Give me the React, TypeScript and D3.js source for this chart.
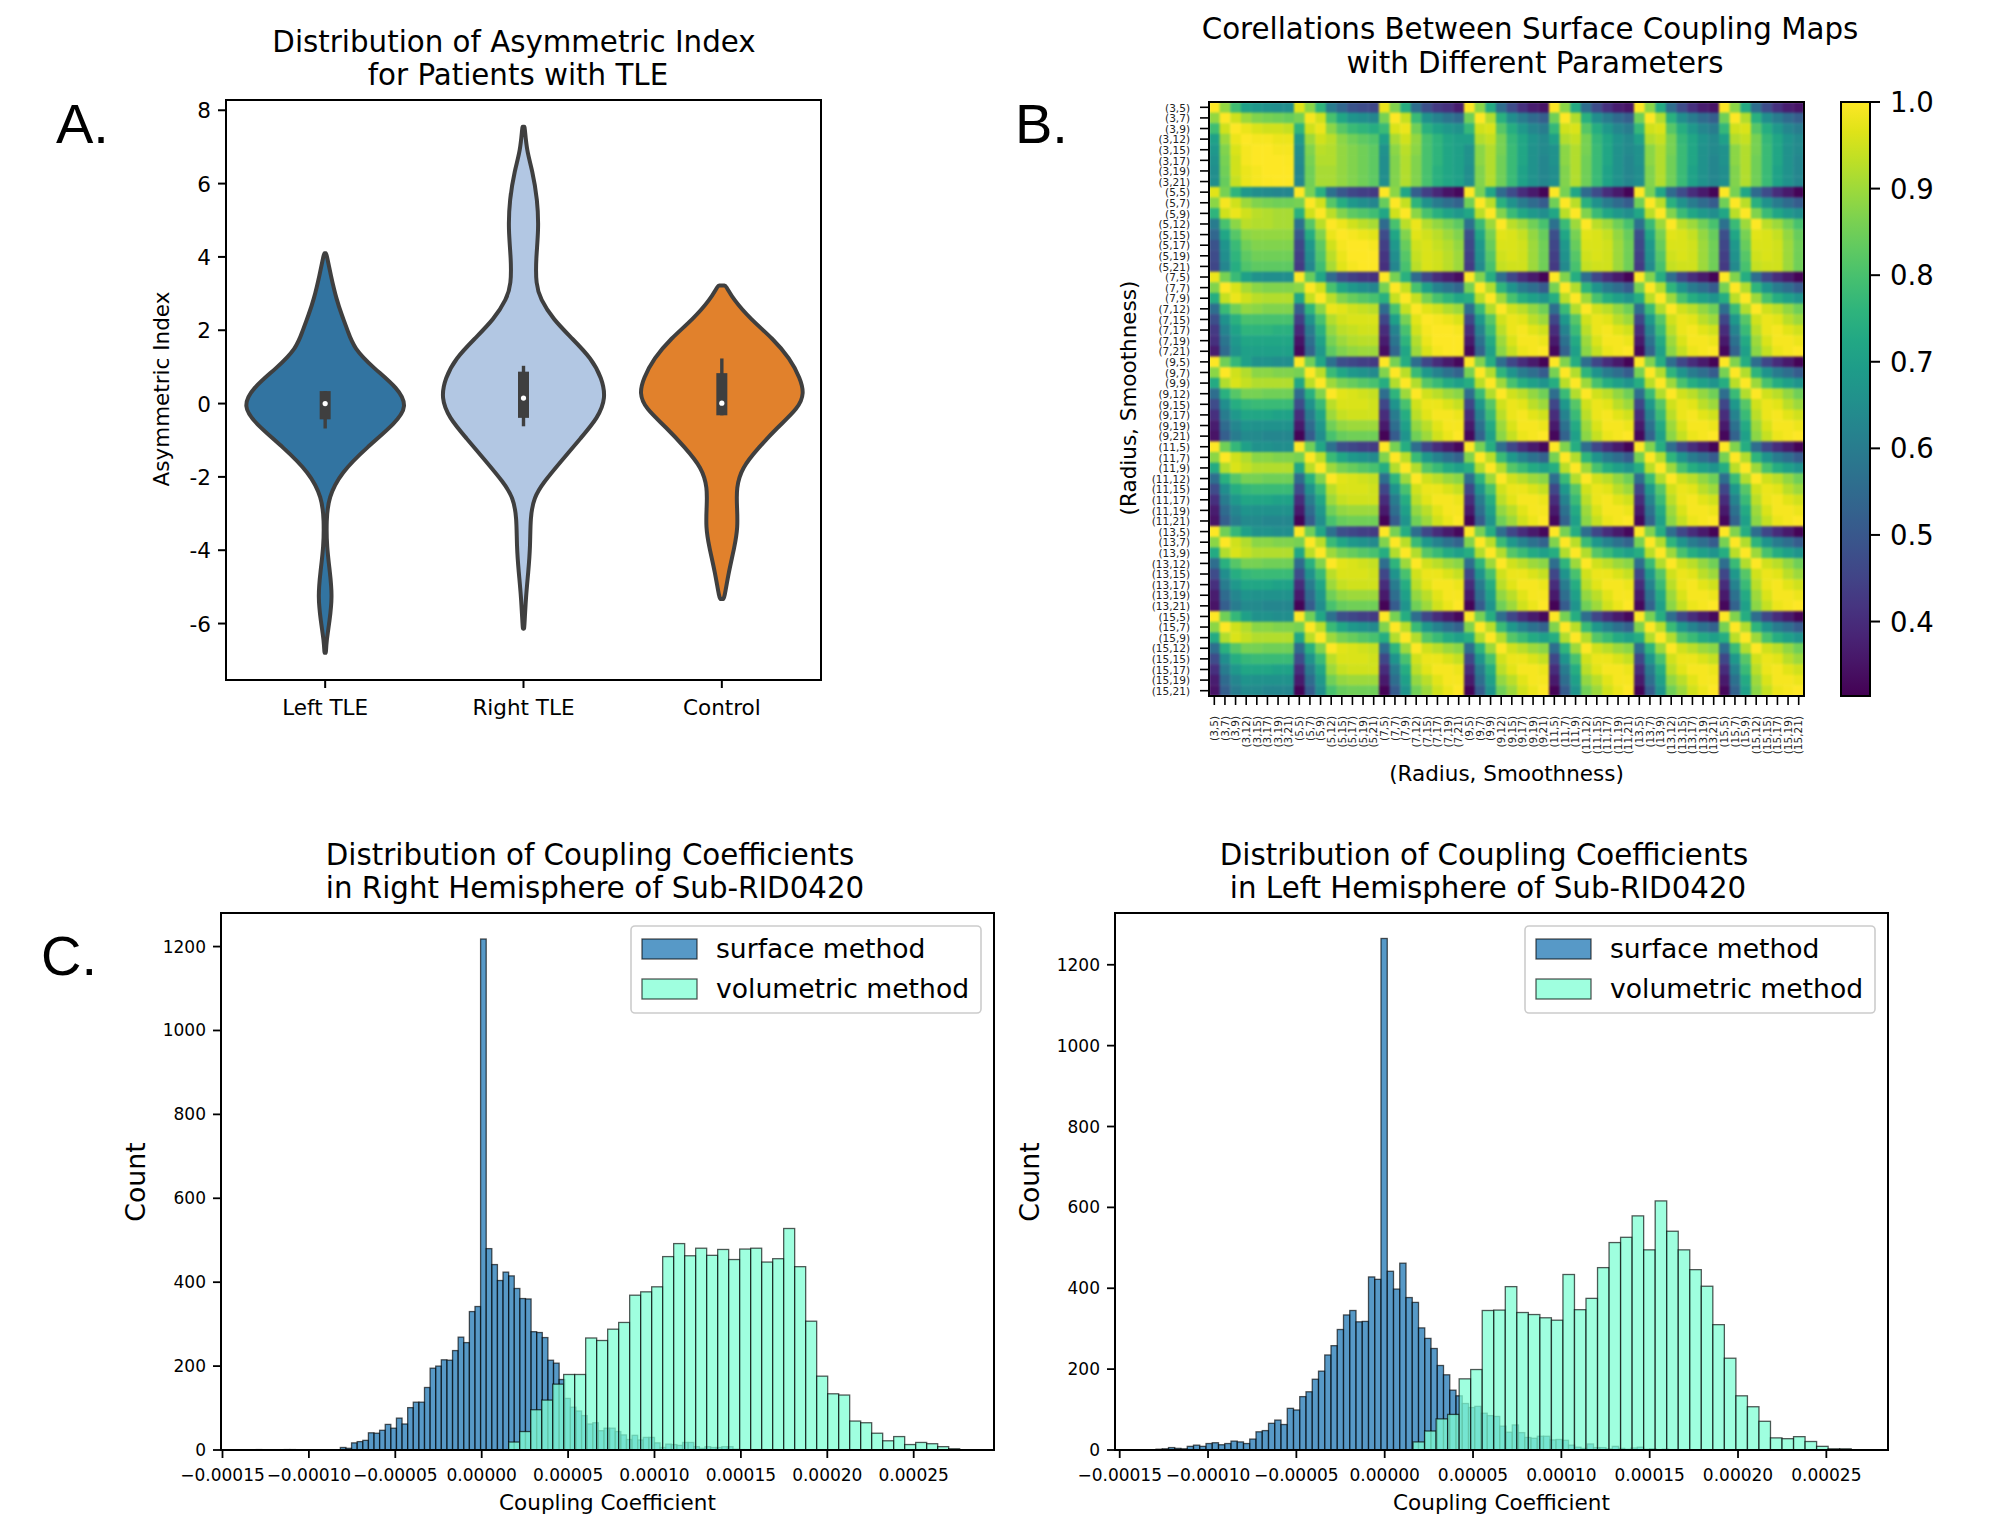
import React from "react";
import * as d3 from "d3";

const FONT = "'DejaVu Sans', sans-serif";

// ---- Panel A data
const violinCategories = ["Left TLE", "Right TLE", "Control"];
const violinColors = ["#3274a1", "#b2c7e3", "#e1812c"];
const leftValues = [4.1, 4.1, 3.5, 2.85, 2.4, 2, 1.5, 0.96, 0.42, -0.08, -0.53, -1.2, -1.88, -2.56, -3.2, -3.9, -4.6, -5.26, -5.94, -6.5, -6.8, -6.8];
const leftWidths = [0.01, 0.015, 0.07, 0.14, 0.21, 0.28, 0.36, 0.61, 0.91, 1.03, 0.88, 0.52, 0.2, 0.04, 0.015, 0.02, 0.06, 0.09, 0.055, 0.015, 0.01, 0.005];
const rightValues = [7.55, 7.55, 6.9, 6.37, 5.56, 4.75, 3.94, 3.26, 2.85, 2.3, 1.77, 1.23, 0.69, 0.15, -0.39, -0.93, -1.6, -2.15, -2.56, -3.1, -3.9, -4.6, -5.26, -6.14, -6.14];
const rightWidths = [0.01, 0.015, 0.04, 0.11, 0.175, 0.19, 0.155, 0.155, 0.21, 0.37, 0.61, 0.85, 0.98, 1.03, 0.93, 0.72, 0.46, 0.25, 0.13, 0.085, 0.085, 0.06, 0.03, 0.01, 0.005];
const controlValues = [3.22, 3.22, 2.85, 2.3, 1.77, 1.23, 0.69, 0.28, -0.12, -0.66, -1.2, -1.75, -2.3, -2.83, -3.37, -3.9, -4.6, -5.33, -5.33];
const controlWidths = [0.03, 0.05, 0.14, 0.36, 0.64, 0.85, 0.98, 1.03, 0.96, 0.69, 0.46, 0.25, 0.18, 0.19, 0.2, 0.16, 0.085, 0.03, 0.015];
const q1s = [-0.43, -0.39, -0.32];
const q3s = [0.34, 0.87, 0.83];
const whiskLow = [-0.68, -0.62, -0.32];
const whiskHigh = [0.34, 1.03, 1.23];
const medians = [0, 0.15, 0.01];
const violinTicks = [8, 6, 4, 2, 0, -2, -4, -6];

// ---- Panel B data
const radii = [3, 5, 7, 9, 11, 13, 15];
const smoothness = [5, 7, 9, 12, 15, 17, 19, 21];
const block33 = [
  [1.0, 0.89, 0.79, 0.7, 0.68, 0.66, 0.65, 0.65],
  [0.89, 1.0, 0.95, 0.9, 0.87, 0.86, 0.85, 0.84],
  [0.79, 0.95, 1.0, 0.98, 0.96, 0.95, 0.95, 0.94],
  [0.7, 0.9, 0.98, 1.0, 0.99, 0.99, 0.98, 0.98],
  [0.68, 0.87, 0.96, 0.99, 1.0, 1.0, 0.99, 0.99],
  [0.66, 0.86, 0.95, 0.99, 1.0, 1.0, 1.0, 0.995],
  [0.65, 0.85, 0.95, 0.98, 0.99, 1.0, 1.0, 1.0],
  [0.65, 0.84, 0.94, 0.98, 0.99, 0.995, 1.0, 1.0],
];
const block35 = [
  [0.97, 0.88, 0.76, 0.6, 0.54, 0.49, 0.47, 0.46],
  [0.86, 0.99, 0.95, 0.8, 0.72, 0.67, 0.65, 0.63],
  [0.76, 0.95, 0.98, 0.88, 0.82, 0.78, 0.76, 0.74],
  [0.68, 0.9, 0.95, 0.93, 0.88, 0.85, 0.83, 0.81],
  [0.65, 0.87, 0.93, 0.92, 0.89, 0.87, 0.85, 0.83],
  [0.64, 0.86, 0.92, 0.92, 0.89, 0.87, 0.85, 0.83],
  [0.63, 0.85, 0.91, 0.91, 0.89, 0.87, 0.85, 0.83],
  [0.63, 0.85, 0.91, 0.91, 0.89, 0.87, 0.85, 0.83],
];
const block37 = [
  [0.98, 0.87, 0.74, 0.56, 0.48, 0.43, 0.41, 0.37],
  [0.86, 1.0, 0.94, 0.78, 0.66, 0.62, 0.58, 0.55],
  [0.78, 0.96, 0.98, 0.85, 0.75, 0.71, 0.68, 0.66],
  [0.7, 0.91, 0.95, 0.89, 0.8, 0.76, 0.72, 0.7],
  [0.66, 0.88, 0.93, 0.88, 0.8, 0.76, 0.72, 0.7],
  [0.65, 0.87, 0.92, 0.87, 0.8, 0.76, 0.72, 0.7],
  [0.65, 0.87, 0.92, 0.87, 0.8, 0.75, 0.72, 0.7],
  [0.65, 0.87, 0.92, 0.87, 0.8, 0.75, 0.72, 0.7],
];
const block3far = [
  [1.0, 0.88, 0.73, 0.56, 0.47, 0.41, 0.37, 0.35],
  [0.85, 1.0, 0.92, 0.75, 0.65, 0.6, 0.55, 0.52],
  [0.77, 0.95, 0.96, 0.82, 0.74, 0.68, 0.63, 0.6],
  [0.7, 0.92, 0.94, 0.86, 0.77, 0.72, 0.67, 0.64],
  [0.66, 0.88, 0.92, 0.86, 0.78, 0.72, 0.66, 0.64],
  [0.66, 0.88, 0.92, 0.85, 0.78, 0.72, 0.66, 0.63],
  [0.65, 0.87, 0.92, 0.85, 0.78, 0.71, 0.66, 0.63],
  [0.65, 0.87, 0.92, 0.85, 0.78, 0.71, 0.66, 0.63],
];
const block55 = [
  [1.0, 0.86, 0.75, 0.57, 0.5, 0.46, 0.44, 0.43],
  [0.86, 1.0, 0.95, 0.82, 0.74, 0.68, 0.65, 0.63],
  [0.75, 0.95, 1.0, 0.93, 0.87, 0.83, 0.81, 0.79],
  [0.57, 0.82, 0.93, 1.0, 0.98, 0.95, 0.93, 0.91],
  [0.5, 0.74, 0.87, 0.98, 1.0, 0.99, 0.98, 0.97],
  [0.46, 0.68, 0.83, 0.95, 0.99, 1.0, 1.0, 0.99],
  [0.44, 0.65, 0.81, 0.93, 0.98, 1.0, 1.0, 1.0],
  [0.43, 0.63, 0.79, 0.91, 0.97, 0.99, 1.0, 1.0],
];
const block57 = [
  [1.0, 0.88, 0.72, 0.52, 0.44, 0.39, 0.35, 0.33],
  [0.84, 1.0, 0.94, 0.76, 0.66, 0.6, 0.56, 0.53],
  [0.72, 0.95, 1.0, 0.88, 0.8, 0.75, 0.71, 0.68],
  [0.55, 0.8, 0.93, 0.98, 0.92, 0.89, 0.86, 0.83],
  [0.47, 0.72, 0.87, 0.97, 0.95, 0.93, 0.9, 0.87],
  [0.44, 0.68, 0.84, 0.95, 0.96, 0.94, 0.92, 0.89],
  [0.42, 0.65, 0.82, 0.94, 0.96, 0.95, 0.93, 0.9],
  [0.41, 0.63, 0.8, 0.93, 0.96, 0.95, 0.93, 0.9],
];
const block5far = [
  [1.0, 0.86, 0.72, 0.55, 0.47, 0.4, 0.36, 0.32],
  [0.85, 1.0, 0.93, 0.75, 0.66, 0.6, 0.55, 0.51],
  [0.72, 0.93, 1.0, 0.87, 0.78, 0.72, 0.68, 0.65],
  [0.57, 0.78, 0.9, 1.0, 0.93, 0.9, 0.85, 0.8],
  [0.48, 0.72, 0.86, 0.97, 0.96, 0.94, 0.89, 0.84],
  [0.46, 0.68, 0.84, 0.96, 0.96, 0.95, 0.9, 0.85],
  [0.44, 0.66, 0.82, 0.95, 0.96, 0.95, 0.9, 0.85],
  [0.43, 0.64, 0.8, 0.94, 0.95, 0.95, 0.9, 0.85],
];
const block77 = [
  [1.0, 0.86, 0.75, 0.55, 0.46, 0.4, 0.37, 0.34],
  [0.86, 1.0, 0.94, 0.8, 0.7, 0.62, 0.58, 0.54],
  [0.75, 0.94, 1.0, 0.94, 0.86, 0.8, 0.76, 0.72],
  [0.55, 0.8, 0.94, 1.0, 0.97, 0.95, 0.92, 0.9],
  [0.46, 0.7, 0.86, 0.97, 1.0, 0.99, 0.98, 0.96],
  [0.4, 0.62, 0.8, 0.95, 0.99, 1.0, 1.0, 0.99],
  [0.37, 0.58, 0.76, 0.92, 0.98, 1.0, 1.0, 1.0],
  [0.34, 0.54, 0.72, 0.9, 0.96, 0.99, 1.0, 1.0],
];
const blockFar = [
  [1.0, 0.87, 0.74, 0.56, 0.46, 0.4, 0.36, 0.32],
  [0.86, 1.0, 0.92, 0.76, 0.67, 0.6, 0.56, 0.51],
  [0.74, 0.93, 1.0, 0.9, 0.8, 0.74, 0.7, 0.67],
  [0.56, 0.78, 0.92, 1.0, 0.95, 0.93, 0.89, 0.85],
  [0.46, 0.68, 0.82, 0.95, 0.98, 0.97, 0.93, 0.9],
  [0.4, 0.62, 0.78, 0.93, 0.98, 0.99, 0.97, 0.95],
  [0.36, 0.57, 0.73, 0.9, 0.96, 0.99, 0.99, 0.98],
  [0.33, 0.53, 0.7, 0.88, 0.94, 0.98, 0.99, 1.0],
];
const colorbarTicks = [1.0, 0.9, 0.8, 0.7, 0.6, 0.5, 0.4];

// ---- Panel C data
const histXTicks = [-0.00015, -0.0001, -0.00005, 0, 0.00005, 0.0001, 0.00015, 0.0002, 0.00025];
const histYTicks = [0, 200, 400, 600, 800, 1000, 1200];
const rightHemiBlueStart = -1.305e-4;
const rightHemiBlueBin = 3.2465e-6;
const rightHemiBlue = [
  1, 0, 0, 0, 0, 1, 1, 0, 0, 0, 0, 0, 0, 0, 0,
  6, 4, 17, 20, 23, 41, 40, 47, 61, 52, 76, 62, 101, 114, 114, 149, 195, 200, 215, 214, 237, 269, 256, 330, 342,
  1218, 480, 442, 404, 424, 415, 385, 361, 360, 282, 280, 268, 214, 207, 168, 123, 102, 93, 82, 62, 65, 46, 52, 52,
  44, 36, 25, 35, 24, 30, 30, 17, 6, 14, 13, 11, 18, 18, 8, 4, 8, 6, 6, 8, 8, 2, 1, 1, 0, 1, 1, 0, 1,
];
const rightHemiGreenStart = 1.56e-5;
const rightHemiGreenBin = 6.366e-6;
const rightHemiGreen = [
  19, 44, 96, 119, 157, 180, 180, 267, 261, 288, 304, 369, 377, 389, 461, 492, 463, 481, 464, 478, 454, 479, 481, 448, 456,
  528, 437, 307, 176, 134, 131, 69, 65, 40, 22, 32, 13, 18, 15, 8, 3,
];
const leftHemiBlueStart = -1.2946e-4;
const leftHemiBlueBin = 3.538e-6;
const leftHemiBlue = [
  2, 3, 6, 4, 3, 9, 12, 9, 16, 18, 13, 16, 22, 20, 16, 27, 45, 48, 66, 74, 63, 103, 99, 132, 144, 175, 195, 235, 258, 298,
  334, 345, 317, 318, 428, 422, 1265, 442, 398, 462, 377, 365, 302, 276, 251, 209, 186, 148, 134, 115, 105, 108, 91, 85, 83,
  59, 44, 62, 43, 31, 29, 34, 34, 25, 26, 24, 12, 7, 4, 15, 6, 6, 3, 9, 4, 2, 5, 7, 2, 3, 1, 2, 1, 1,
];
const leftHemiGreenStart = 1.604e-5;
const leftHemiGreenBin = 6.527e-6;
const leftHemiGreen = [
  20, 47, 77, 88, 176, 199, 345, 346, 404, 340, 335, 327, 321, 434, 347, 375, 451, 513, 526, 579, 495, 616, 541, 495, 446,
  405, 310, 227, 134, 107, 71, 30, 28, 33, 21, 9, 3, 3,
];
const legendLabels = ["surface method", "volumetric method"];

const STROKE = "#000";
const TITLE_SIZE = 29.3;
const LABEL_SIZE = 21.5;

function blockFor(i: number, j: number) {
  // table for a pair of radius indices; i = row radius, j = column radius
  const a = Math.min(i, j);
  const b = Math.max(i, j);
  let t = blockFar;
  if (a === 0) t = b === 0 ? block33 : b === 1 ? block35 : b === 2 ? block37 : block3far;
  else if (a === 1) t = b === 1 ? block55 : b === 2 ? block57 : block5far;
  else if (a === 2 && b === 2) t = block77;
  return { t, swap: i > j };
}

function Violins() {
  const L = 226, R = 821, T = 100, B = 680;
  const x = d3.scaleBand<string>().domain(violinCategories).range([L, R]);
  const y = d3.scaleLinear().domain([-7.54, 8.28]).range([B, T]);
  const halfMax = 80;
  const vals = [leftValues, rightValues, controlValues];
  const wids = [leftWidths, rightWidths, controlWidths];
  return (
    <g fontFamily={FONT} fill="#000">
      <text textAnchor="middle" fontSize={TITLE_SIZE}>
        <tspan x={514} y={52}>Distribution of Asymmetric Index</tspan>
        <tspan x={518} y={85}>for Patients with TLE</tspan>
      </text>
      {violinCategories.map((c, k) => {
        const cx = x(c)! + x.bandwidth() / 2;
        const pts = vals[k].map((v, i) => [v, wids[k][i]] as [number, number]);
        const area = d3.area<[number, number]>()
          .y((d) => y(d[0]))
          .x0((d) => cx - d[1] * halfMax)
          .x1((d) => cx + d[1] * halfMax)
          .curve(d3.curveBasis);
        return (
          <g key={c}>
            <path d={area(pts)!} fill={violinColors[k]} stroke="#3f3f3f" strokeWidth={4} strokeLinejoin="round" />
            <line x1={cx} x2={cx} y1={y(whiskLow[k])} y2={y(whiskHigh[k])} stroke="#3f3f3f" strokeWidth={3.4} />
            <line x1={cx} x2={cx} y1={y(q1s[k])} y2={y(q3s[k])} stroke="#3f3f3f" strokeWidth={11} />
            <circle cx={cx} cy={y(medians[k])} r={2.6} fill="#fff" />
            <line x1={cx} x2={cx} y1={B} y2={B + 8} stroke={STROKE} strokeWidth={2} />
            <text x={cx} y={B + 35} textAnchor="middle" fontSize={LABEL_SIZE}>{c}</text>
          </g>
        );
      })}
      {violinTicks.map((t) => (
        <g key={t}>
          <line x1={L - 8} x2={L} y1={y(t)} y2={y(t)} stroke={STROKE} strokeWidth={2} />
          <text x={L - 15} y={y(t) + 8} textAnchor="end" fontSize={LABEL_SIZE}>{String(t)}</text>
        </g>
      ))}
      <rect x={L} y={T} width={R - L} height={B - T} fill="none" stroke={STROKE} strokeWidth={2} />
      <text transform={`translate(169,${(T + B) / 2 - 1}) rotate(-90)`} textAnchor="middle" fontSize={LABEL_SIZE}>Asymmetric Index</text>
    </g>
  );
}

function Heatmap() {
  const L = 1209, R = 1804, T = 102, B = 696;
  const labels = radii.flatMap((r) => smoothness.map((s) => `(${r},${s})`));
  const xb = d3.scaleBand<string>().domain(labels).range([L, R]);
  const yb = d3.scaleBand<string>().domain(labels).range([T, B]);
  const cbY = d3.scaleLinear().domain([0.314, 1]).range([B, T]);
  const color = d3.scaleSequential(d3.interpolateViridis).domain([0.314, 1]);
  const cells: { k: string; x: number; y: number; v: number }[] = [];
  radii.forEach((_, i) => radii.forEach((__, j) => {
    const { t, swap } = blockFor(i, j);
    smoothness.forEach((_s, a) => smoothness.forEach((_q, b) => {
      const v = swap ? t[b][a] : t[a][b];
      const rowLabel = labels[i * 8 + a];
      const colLabel = labels[j * 8 + b];
      cells.push({ k: rowLabel + colLabel, x: xb(colLabel)!, y: yb(rowLabel)!, v });
    }));
  }));
  const stops = d3.range(0, 21).map((i) => i / 20);
  const cw = xb.bandwidth();
  const ch = yb.bandwidth();
  return (
    <g fontFamily={FONT} fill="#000">
      <defs>
        <linearGradient id="viridisBar" x1="0" y1="1" x2="0" y2="0">
          {stops.map((s) => <stop key={s} offset={s} stopColor={d3.interpolateViridis(s)} />)}
        </linearGradient>
        <filter id="soft" x="-2%" y="-2%" width="104%" height="104%" colorInterpolationFilters="sRGB">
          <feGaussianBlur stdDeviation={0.9} />
        </filter>
        <clipPath id="heatClip"><rect x={L} y={T} width={R - L} height={B - T} /></clipPath>
      </defs>
      <text textAnchor="middle" fontSize={TITLE_SIZE}>
        <tspan x={1530} y={39}>Corellations Between Surface Coupling Maps</tspan>
        <tspan x={1535} y={73}>with Different Parameters</tspan>
      </text>
      <g clipPath="url(#heatClip)">
        <g filter="url(#soft)">
          {cells.map((c) => (
            <rect key={c.k} x={c.x} y={c.y} width={cw + 0.4} height={ch + 0.4} fill={color(c.v)} />
          ))}
        </g>
      </g>
      <rect x={L} y={T} width={R - L} height={B - T} fill="none" stroke={STROKE} strokeWidth={2} />
      {labels.map((l) => {
        const cy = yb(l)! + ch / 2;
        const cx = xb(l)! + cw / 2;
        return (
          <g key={l}>
            <line x1={L - 9} x2={L} y1={cy} y2={cy} stroke={STROKE} strokeWidth={1.6} />
            <text x={L - 19} y={cy + 4.2} textAnchor="end" fontSize={10.5} fill="#222">{l}</text>
            <line x1={cx} x2={cx} y1={B} y2={B + 9} stroke={STROKE} strokeWidth={1.6} />
            <text transform={`translate(${cx + 3.8},716) rotate(-90)`} textAnchor="end" fontSize={10.5} fill="#222">{l}</text>
          </g>
        );
      })}
      <text x={(L + R) / 2} y={781} textAnchor="middle" fontSize={LABEL_SIZE}>(Radius, Smoothness)</text>
      <text transform={`translate(1136,${(T + B) / 2 - 1}) rotate(-90)`} textAnchor="middle" fontSize={LABEL_SIZE}>(Radius, Smoothness)</text>
      <rect x={1841} y={T} width={29} height={B - T} fill="url(#viridisBar)" stroke={STROKE} strokeWidth={2} />
      {colorbarTicks.map((t) => (
        <g key={t}>
          <line x1={1870} x2={1880} y1={cbY(t)} y2={cbY(t)} stroke={STROKE} strokeWidth={2} />
          <text x={1890} y={cbY(t) + 10} fontSize={27.5}>{t.toFixed(1)}</text>
        </g>
      ))}
    </g>
  );
}

type HistProps = {
  left: number; right: number; xZero: number; xPer: number; yTop: number;
  blue: number[]; blueStart: number; blueBin: number;
  green: number[]; greenStart: number; greenBin: number;
  title: string[]; titleX: number[];
};

function Hist(p: HistProps) {
  const T = 913, B = 1450;
  const x = d3.scaleLinear()
    .domain([(p.left - p.xZero) / p.xPer * 0.00005, (p.right - p.xZero) / p.xPer * 0.00005])
    .range([p.left, p.right]);
  const y = d3.scaleLinear().domain([0, p.yTop]).range([B, T]);
  const series = [
    { vals: p.blue, start: p.blueStart, bin: p.blueBin, fill: "#1f77b4" },
    { vals: p.green, start: p.greenStart, bin: p.greenBin, fill: "#7fffd4" },
  ];
  const lx = p.right - 363;
  return (
    <g fontFamily={FONT} fill="#000">
      <text textAnchor="middle" fontSize={TITLE_SIZE}>
        <tspan x={p.titleX[0]} y={865}>{p.title[0]}</tspan>
        <tspan x={p.titleX[1]} y={898}>{p.title[1]}</tspan>
      </text>
      {series.map((s, si) => s.vals.map((v, i) => (v > 0 ? (
        <rect key={`${si}-${i}`} x={x(s.start + i * s.bin)} y={y(v)}
          width={x(s.start + (i + 1) * s.bin) - x(s.start + i * s.bin)} height={B - y(v)}
          fill={s.fill} fillOpacity={0.75} stroke="#000" strokeOpacity={0.65} strokeWidth={1.3} />
      ) : null)))}
      <rect x={p.left} y={T} width={p.right - p.left} height={B - T} fill="none" stroke={STROKE} strokeWidth={2} />
      {histXTicks.map((t) => (
        <g key={t}>
          <line x1={x(t)} x2={x(t)} y1={B} y2={B + 8} stroke={STROKE} strokeWidth={1.8} />
          <text x={x(t)} y={B + 31} textAnchor="middle" fontSize={17}>{t.toFixed(5).replace("-", "\u2212")}</text>
        </g>
      ))}
      {histYTicks.map((t) => (
        <g key={t}>
          <line x1={p.left - 8} x2={p.left} y1={y(t)} y2={y(t)} stroke={STROKE} strokeWidth={1.8} />
          <text x={p.left - 15} y={y(t) + 6} textAnchor="end" fontSize={17}>{t}</text>
        </g>
      ))}
      <text x={(p.left + p.right) / 2} y={1510} textAnchor="middle" fontSize={LABEL_SIZE}>Coupling Coefficient</text>
      <text transform={`translate(${p.left - 76},${(T + B) / 2 + 0.5}) rotate(-90)`} textAnchor="middle" fontSize={26.8}>Count</text>
      <rect x={lx} y={926} width={350} height={87} rx={4} fill="#fff" fillOpacity={0.8} stroke="#ccc" strokeWidth={1.6} />
      {legendLabels.map((l, i) => (
        <g key={l}>
          <rect x={lx + 11} y={939 + i * 40} width={55} height={20} fill={series[i].fill} fillOpacity={0.75} stroke="#000" strokeOpacity={0.65} strokeWidth={1.3} />
          <text x={lx + 85} y={958 + i * 40} fontSize={26.6}>{l}</text>
        </g>
      ))}
    </g>
  );
}

export default function App() {
  return (
    <svg width={1992} height={1518} viewBox="0 0 1992 1518" style={{ position: "absolute", left: 0, top: 0, display: "block", background: "#fff" }}>
      <g fontFamily="'Liberation Sans', Arial, sans-serif" fontSize={56} fill="#000">
        <text x={56} y={143}>A.</text>
        <text x={1015} y={143}>B.</text>
        <text x={41} y={975}>C.</text>
      </g>
      <Violins />
      <Heatmap />
      <Hist left={221} right={994} xZero={481.7} xPer={86.4} yTop={1280}
        blue={rightHemiBlue} blueStart={rightHemiBlueStart} blueBin={rightHemiBlueBin}
        green={rightHemiGreen} greenStart={rightHemiGreenStart} greenBin={rightHemiGreenBin}
        title={["Distribution of Coupling Coefficients", "in Right Hemisphere of Sub-RID0420"]} titleX={[590, 595]} />
      <Hist left={1115} right={1888} xZero={1384.7} xPer={88.33} yTop={1328}
        blue={leftHemiBlue} blueStart={leftHemiBlueStart} blueBin={leftHemiBlueBin}
        green={leftHemiGreen} greenStart={leftHemiGreenStart} greenBin={leftHemiGreenBin}
        title={["Distribution of Coupling Coefficients", "in Left Hemisphere of Sub-RID0420"]} titleX={[1484, 1488]} />
    </svg>
  );
}
